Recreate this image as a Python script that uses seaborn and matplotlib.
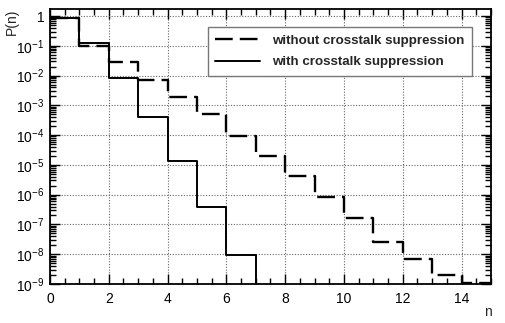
import numpy as np
import pandas as pd
import matplotlib
matplotlib.use("Agg")
import matplotlib.pyplot as plt
from matplotlib.ticker import FixedLocator, MultipleLocator, LogLocator, NullFormatter
import seaborn as sns

# bin edges n = 0..15 and probabilities per bin
edges = list(range(16))
p_without = [0.88, 0.096, 0.028, 0.007, 0.0019, 5.0e-4, 9.0e-5, 2.0e-5,
             4.3e-6, 8.3e-7, 1.6e-7, 2.5e-8, 7.0e-9, 2.0e-9, 1.05e-9]
p_with = [0.88, 0.12, 0.0085, 4.0e-4, 1.35e-5, 4.0e-7, 9.5e-9]

y_ticks = [10.0 ** k for k in range(-9, 1)]
y_labels = ["$10^{%d}$" % k for k in range(-9, 0)] + ["1"]
x_ticks = list(range(0, 15, 2))

sns.set_style("ticks")
plt.rcParams["font.family"] = ["Liberation Sans", "DejaVu Sans"]
plt.rcParams["mathtext.default"] = "regular"

# step curves (steps-post): repeat the last value, solid curve drops to 0 at n=7
df_without = pd.DataFrame({"n": edges, "p": p_without + [p_without[-1]]})
df_with = pd.DataFrame({"n": edges[:len(p_with) + 1], "p": p_with + [0.0]})

fig = plt.figure(figsize=(5.06, 3.23), dpi=100)
ax = fig.add_axes([50 / 506, 1 - 284 / 323, 441 / 506, 275 / 323])
ax.set_yscale("log", nonpositive="clip")

sns.lineplot(data=df_without, x="n", y="p", ax=ax, color="black", lw=1.7,
             drawstyle="steps-post", linestyle=(0, (7.5, 3.0)), estimator=None,
             label="without crosstalk suppression")
sns.lineplot(data=df_with, x="n", y="p", ax=ax, color="black", lw=1.4,
             drawstyle="steps-post", estimator=None,
             label="with crosstalk suppression")

ax.set_xlim(0, 15)
ax.set_ylim(1e-9, 1.72)

ax.xaxis.set_major_locator(FixedLocator(x_ticks))
ax.xaxis.set_minor_locator(MultipleLocator(0.5))
ax.yaxis.set_major_locator(FixedLocator(y_ticks))
ax.set_yticklabels(y_labels)
ax.yaxis.set_minor_locator(LogLocator(base=10, subs=np.arange(2, 10), numticks=30))
ax.yaxis.set_minor_formatter(NullFormatter())

ax.tick_params(which="both", direction="in", top=True, right=True,
               labelsize=10, colors="black", width=1.0)
ax.tick_params(axis="x", which="major", length=7, pad=6)
ax.tick_params(axis="y", which="major", length=7, pad=4)
ax.tick_params(which="minor", length=4)
for s in ax.spines.values():
    s.set_linewidth(1.3)
    s.set_color("black")

ax.grid(True, which="major", linestyle=(0, (1, 1.5)), color="#666666", lw=0.8)

ax.set_xlabel("")
ax.set_ylabel("")
fig.text(488 / 506, 1 - 312 / 323, "n", fontsize=10, ha="center", va="center")
fig.text(12 / 506, 1 - 22 / 323, "P(n)", fontsize=10, rotation=90,
         ha="center", va="center")

leg = ax.legend(loc="upper right", bbox_to_anchor=(0.957, 0.935),
                frameon=True, fancybox=False, framealpha=1,
                prop={"weight": "bold", "size": 9.6},
                handlelength=3.4, handletextpad=0.9, borderpad=0.55,
                labelspacing=0.7, borderaxespad=0)
leg.get_frame().set_edgecolor("#777777")
leg.get_frame().set_linewidth(1.0)

fig.savefig("out.png", dpi=100)
